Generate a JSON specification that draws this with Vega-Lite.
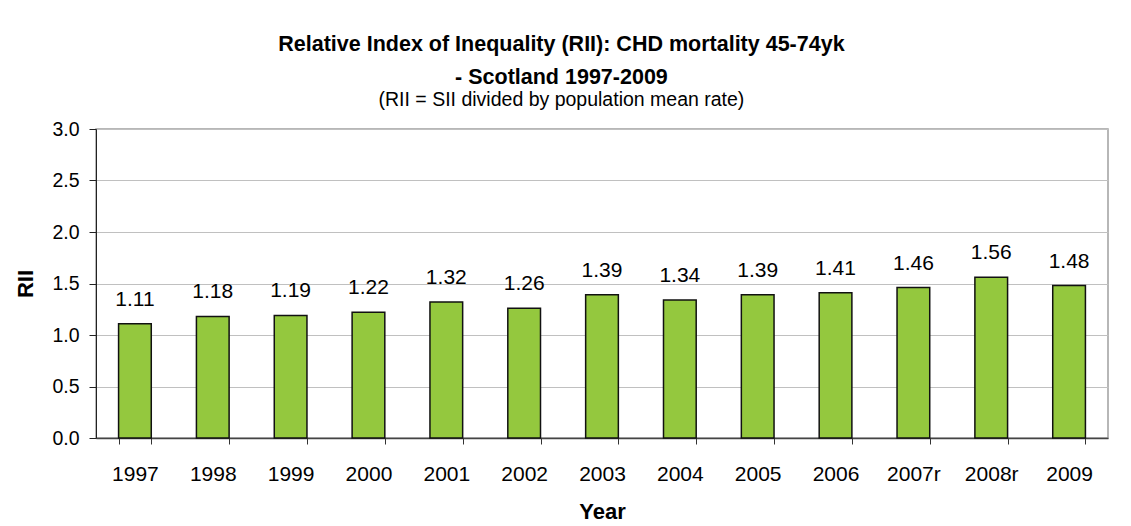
{
  "$schema": "https://vega.github.io/schema/vega-lite/v6.json",
  "autosize": {"type": "none"},
  "width": 1012,
  "height": 309,
  "padding": {"left": 96, "top": 129, "right": 23, "bottom": 88},
  "background": "white",
  "title": {
    "text": ["Relative Index of Inequality (RII): CHD mortality 45-74yk", "- Scotland 1997-2009"],
    "subtitle": "(RII = SII divided by population mean rate)",
    "anchor": "middle",
    "frame": "bounds",
    "font": "Liberation Sans",
    "fontSize": 21.5,
    "fontWeight": "bold",
    "lineHeight": 33,
    "color": "black",
    "subtitleFont": "Liberation Sans",
    "subtitleFontSize": 19.5,
    "subtitleColor": "black",
    "subtitlePadding": 2,
    "offset": 10
  },
  "data": {
    "values": [
      {"Year": "1997", "RII": 1.11},
      {"Year": "1998", "RII": 1.18},
      {"Year": "1999", "RII": 1.19},
      {"Year": "2000", "RII": 1.22},
      {"Year": "2001", "RII": 1.32},
      {"Year": "2002", "RII": 1.26},
      {"Year": "2003", "RII": 1.39},
      {"Year": "2004", "RII": 1.34},
      {"Year": "2005", "RII": 1.39},
      {"Year": "2006", "RII": 1.41},
      {"Year": "2007r", "RII": 1.46},
      {"Year": "2008r", "RII": 1.56},
      {"Year": "2009", "RII": 1.48}
    ]
  },
  "encoding": {
    "x": {
      "field": "Year",
      "type": "nominal",
      "sort": null,
      "scale": {"paddingInner": 0.58, "paddingOuter": 0.29},
      "axis": {
        "title": "Year",
        "titleFont": "Liberation Sans",
        "titleFontSize": 22,
        "titleFontWeight": "bold",
        "titleColor": "black",
        "titlePadding": 17,
        "labelAngle": 0,
        "labelFont": "Liberation Sans",
        "labelFontSize": 21,
        "labelColor": "black",
        "labelPadding": 19,
        "tickBand": "extent",
        "tickSize": 6,
        "tickColor": "#333333",
        "domainColor": "#444444",
        "domainWidth": 1.5,
        "grid": false
      }
    },
    "y": {
      "field": "RII",
      "type": "quantitative",
      "scale": {"domain": [0, 3]},
      "axis": {
        "title": "RII",
        "titleFont": "Liberation Sans",
        "titleFontSize": 22,
        "titleFontWeight": "bold",
        "titleColor": "black",
        "titlePadding": 14,
        "values": [0, 0.5, 1, 1.5, 2, 2.5, 3],
        "format": ".1f",
        "labelFont": "Liberation Sans",
        "labelFontSize": 19.5,
        "labelColor": "black",
        "labelPadding": 10,
        "tickSize": 7,
        "tickColor": "#222222",
        "domainColor": "#222222",
        "gridColor": "#c0c0c0",
        "gridWidth": 1
      }
    }
  },
  "layer": [
    {
      "mark": {"type": "bar", "color": "#94c83e", "stroke": "#111111", "strokeWidth": 1.5}
    },
    {
      "mark": {"type": "text", "baseline": "alphabetic", "dy": -18, "font": "Liberation Sans", "fontSize": 21, "color": "black"},
      "encoding": {"text": {"field": "RII", "type": "quantitative", "format": ".2f"}}
    }
  ],
  "config": {
    "view": {"stroke": "#a0a0a0", "strokeWidth": 1.5}
  }
}
